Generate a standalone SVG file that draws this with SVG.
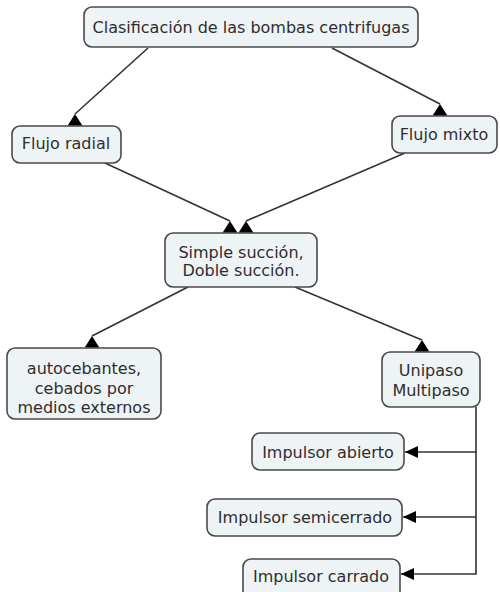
<svg xmlns="http://www.w3.org/2000/svg" width="500" height="592" viewBox="0 0 500 592">
<style>
.n rect{fill:#eef3f5;stroke:#4a4a4a;stroke-width:1.6}
.n text{font-family:"DejaVu Sans",Verdana,sans-serif;font-size:16px;fill:#2e2e2e;text-anchor:middle}
.c line{stroke:#333;stroke-width:1.6;fill:none;marker-end:url(#up)}
.c polyline{stroke:#333;stroke-width:1.6;fill:none;marker-end:url(#lt)}
</style>
<defs>
<marker id="up" viewBox="0 0 14 11" refX="7" refY="0" markerWidth="15" markerHeight="12" markerUnits="userSpaceOnUse" orient="0">
<path d="M7,0 L14,11 L0,11 z" fill="#000"/>
</marker>
<marker id="lt" viewBox="0 0 13 12" refX="0" refY="6" markerWidth="13" markerHeight="12" markerUnits="userSpaceOnUse" orient="0">
<path d="M0,6 L13,0 L13,12 z" fill="#000"/>
</marker>
</defs>
<rect width="500" height="592" fill="#fff"/>
<g class="c">
<line x1="148" y1="48" x2="75" y2="114"/>
<line x1="332" y1="48" x2="440" y2="104"/>
<line x1="105" y1="163" x2="230" y2="221"/>
<line x1="405" y1="153" x2="246" y2="221"/>
<line x1="188" y1="287" x2="92" y2="336"/>
<line x1="295" y1="287" x2="422" y2="340"/>
<polyline points="476,407 476,452 405,452"/>
<polyline points="476,452 476,517 403,517"/>
<polyline points="476,517 476,574 401,574"/>
</g>
<g class="n" id="n1"><rect x="84" y="7" width="334" height="40" rx="8"/><text x="251" y="33">Clasificación de las bombas centrifugas</text></g>
<g class="n" id="n2"><rect x="12" y="126" width="109" height="37" rx="8"/><text x="66" y="149">Flujo radial</text></g>
<g class="n" id="n3"><rect x="392" y="116" width="105" height="37" rx="8"/><text x="444" y="140">Flujo mixto</text></g>
<g class="n" id="n4"><rect x="165" y="233" width="152" height="54" rx="8"/><text x="241" y="258">Simple succión,</text><text x="241" y="276">Doble succión.</text></g>
<g class="n" id="n5"><rect x="7" y="348" width="154" height="71" rx="8"/><text x="84" y="374">autocebantes,</text><text x="84" y="394">cebados por</text><text x="84" y="413">medios externos</text></g>
<g class="n" id="n6"><rect x="382" y="352" width="98" height="55" rx="8"/><text x="431" y="376">Unipaso</text><text x="431" y="396">Multipaso</text></g>
<g class="n" id="n7"><rect x="252" y="433" width="152" height="37" rx="8"/><text x="328" y="458">Impulsor abierto</text></g>
<g class="n" id="n8"><rect x="207" y="499" width="195" height="37" rx="8"/><text x="305" y="523">Impulsor semicerrado</text></g>
<g class="n" id="n9"><rect x="243" y="559" width="157" height="42" rx="8"/><text x="321" y="582">Impulsor carrado</text></g>
</svg>
